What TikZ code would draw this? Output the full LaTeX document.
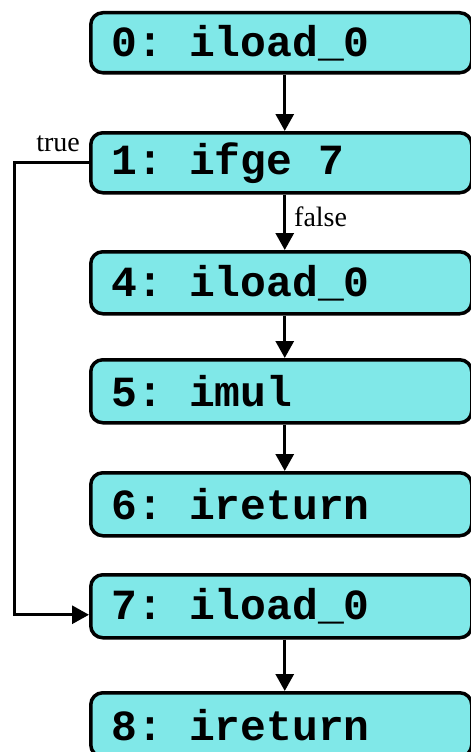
\documentclass[tikz,border=0pt]{standalone}
\usepackage{fontspec}
\setmainfont{Liberation Serif}
\newfontfamily\codefont{Liberation Mono}
\usetikzlibrary{arrows.meta}
\definecolor{boxfill}{RGB}{128,232,232}
\newcommand\gapc{\hspace*{0.6em}}
\begin{document}
\begin{tikzpicture}[x=1pt,y=1pt,
  insn/.style={draw=black, line width=3.5pt, fill=boxfill, rounded corners=12pt,
    minimum width=381pt, inner xsep=21pt, text width=339pt, align=left,
    font=\codefont\bfseries\fontsize{43}{50}\selectfont, anchor=north west},
  flow/.style={line width=3pt, -{Triangle[length=17pt,width=18pt]}},
  lbl/.style={font=\fontsize{28}{32}\selectfont, inner sep=0pt}]
\useasboundingbox (0,0) rectangle (471,-752);
\node[insn, minimum height=60pt] (n0) at (89,-11) {0:\gapc iload\_0};
\node[insn, minimum height=60pt] (n1) at (89,-131) {1:\gapc ifge\gapc 7};
\node[insn, minimum height=62pt] (n4) at (89,-250) {4:\gapc iload\_0};
\node[insn, minimum height=63pt] (n5) at (89,-358) {5:\gapc imul};
\node[insn, minimum height=63pt] (n6) at (89,-471) {6:\gapc ireturn};
\node[insn, minimum height=63pt] (n7) at (89,-573) {7:\gapc iload\_0};
\node[insn, minimum height=64pt] (n8) at (89,-691) {8:\gapc ireturn};
\draw[flow] ([xshift=3.5pt]n0.south) -- ([xshift=3.5pt]n1.north);
\draw[flow] ([xshift=3.5pt]n1.south) -- ([xshift=3.5pt]n4.north);
\draw[flow] ([xshift=3.5pt]n4.south) -- ([xshift=3.5pt]n5.north);
\draw[flow] ([xshift=3.5pt]n5.south) -- ([xshift=3.5pt]n6.north);
\draw[flow] ([xshift=3.5pt]n7.south) -- ([xshift=3.5pt]n8.north);
\coordinate (lx) at (14,0);
\draw[flow] (n1.west) -- (n1.west -| lx) -- ([yshift=-8.5pt]n7.west -| lx) -- ([yshift=-8.5pt]n7.west);
\node[lbl, anchor=base east] (tl) at (80,-151) {true};
\node[lbl, anchor=base west] (fl) at (294,-226) {false};
\end{tikzpicture}
\end{document}
